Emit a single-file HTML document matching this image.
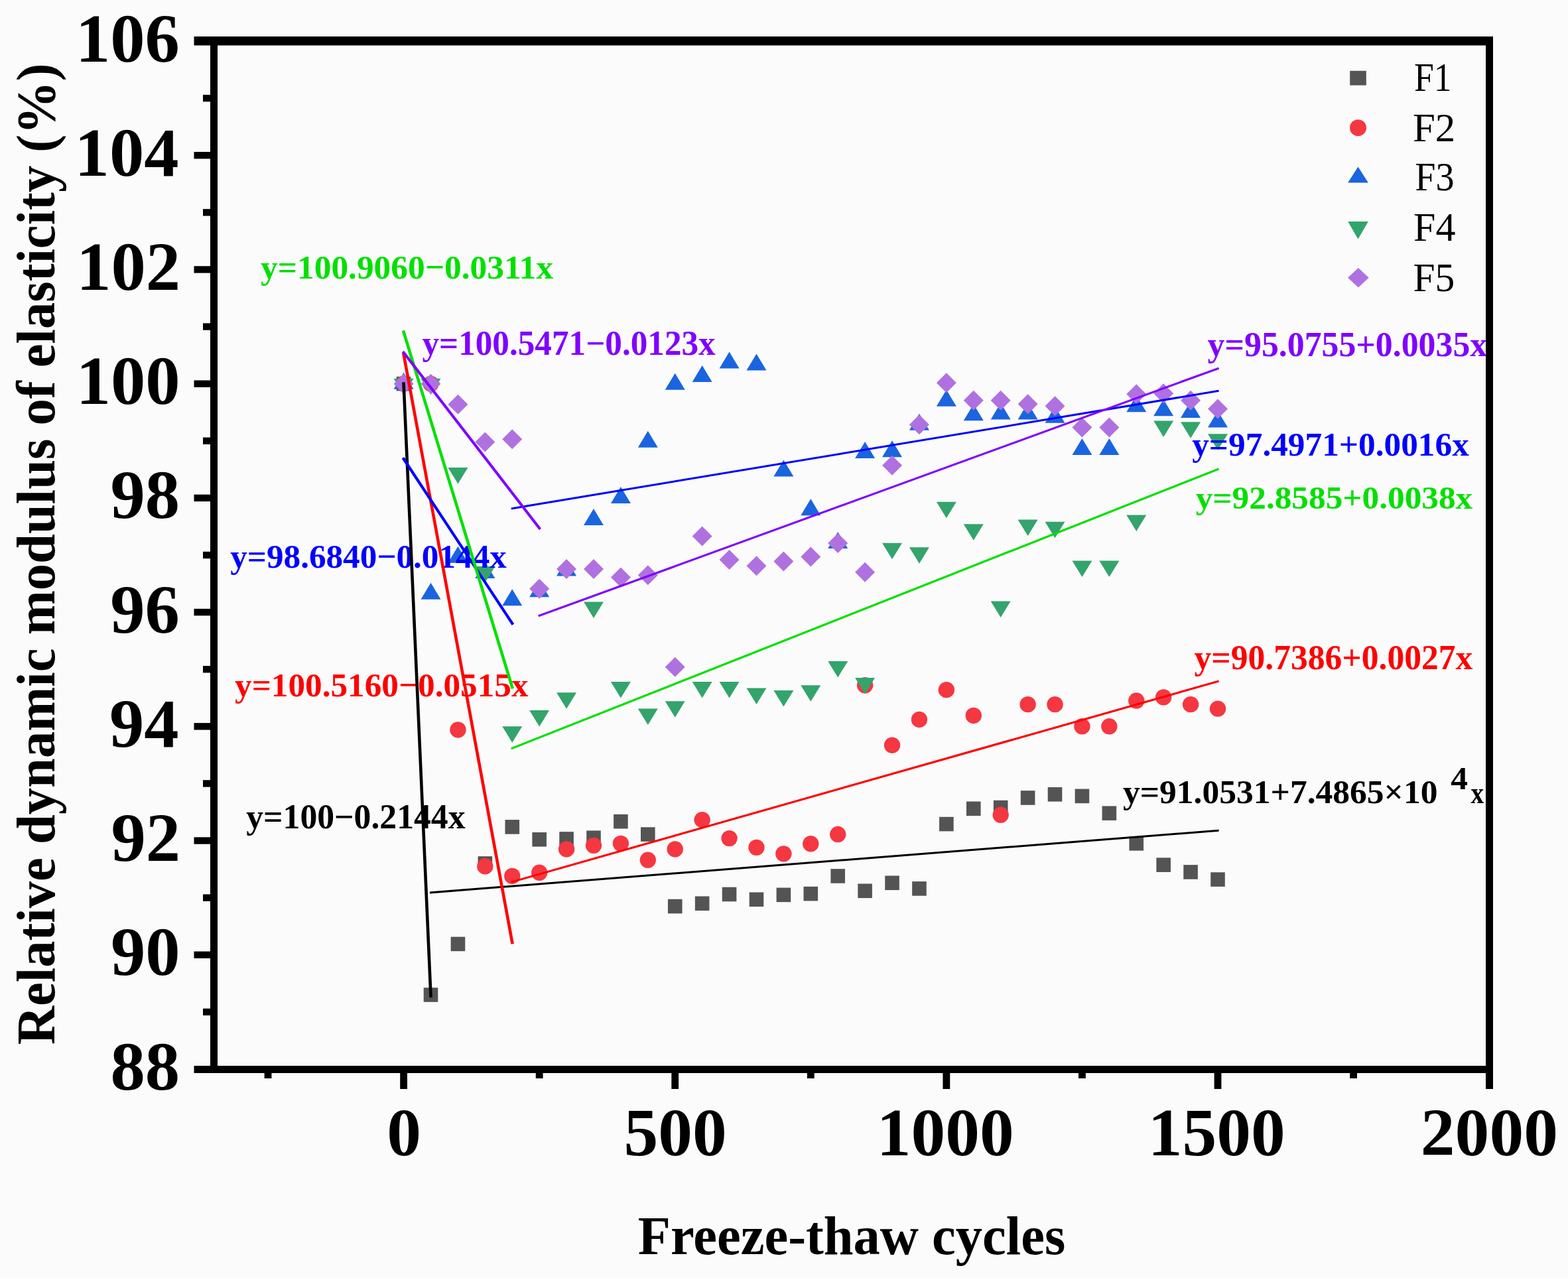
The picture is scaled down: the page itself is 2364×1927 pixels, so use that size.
<!DOCTYPE html><html><head><meta charset="utf-8"><title>Relative dynamic modulus of elasticity vs freeze-thaw cycles</title>
<style>html,body{margin:0;padding:0;background:#fcfbfc;}svg{display:block;}text{font-family:"Liberation Serif","Times New Roman",serif;}</style></head><body>
<svg width="2364" height="1927" viewBox="0 0 2364 1927">
<rect width="2364" height="1927" fill="#fcfbfc"/>
<g>
<rect x="597.8" y="567.86" width="21.6" height="21.6" fill="#545454"/>
<rect x="638.71" y="1489.24" width="21.6" height="21.6" fill="#545454"/>
<rect x="679.63" y="1412.6" width="21.6" height="21.6" fill="#545454"/>
<rect x="720.54" y="1291.18" width="21.6" height="21.6" fill="#545454"/>
<rect x="761.45" y="1236.07" width="21.6" height="21.6" fill="#545454"/>
<rect x="802.37" y="1255.02" width="21.6" height="21.6" fill="#545454"/>
<rect x="843.28" y="1254.16" width="21.6" height="21.6" fill="#545454"/>
<rect x="884.19" y="1252.43" width="21.6" height="21.6" fill="#545454"/>
<rect x="925.11" y="1227.89" width="21.6" height="21.6" fill="#545454"/>
<rect x="966.02" y="1247.27" width="21.6" height="21.6" fill="#545454"/>
<rect x="1006.94" y="1355.77" width="21.6" height="21.6" fill="#545454"/>
<rect x="1047.85" y="1351.46" width="21.6" height="21.6" fill="#545454"/>
<rect x="1088.76" y="1337.68" width="21.6" height="21.6" fill="#545454"/>
<rect x="1129.68" y="1345.43" width="21.6" height="21.6" fill="#545454"/>
<rect x="1170.59" y="1338.54" width="21.6" height="21.6" fill="#545454"/>
<rect x="1211.5" y="1336.82" width="21.6" height="21.6" fill="#545454"/>
<rect x="1252.42" y="1310.13" width="21.6" height="21.6" fill="#545454"/>
<rect x="1293.33" y="1332.52" width="21.6" height="21.6" fill="#545454"/>
<rect x="1334.24" y="1320.46" width="21.6" height="21.6" fill="#545454"/>
<rect x="1375.16" y="1329.07" width="21.6" height="21.6" fill="#545454"/>
<rect x="1416.07" y="1231.77" width="21.6" height="21.6" fill="#545454"/>
<rect x="1456.98" y="1208.52" width="21.6" height="21.6" fill="#545454"/>
<rect x="1497.9" y="1206.8" width="21.6" height="21.6" fill="#545454"/>
<rect x="1538.81" y="1192.16" width="21.6" height="21.6" fill="#545454"/>
<rect x="1579.72" y="1186.99" width="21.6" height="21.6" fill="#545454"/>
<rect x="1620.64" y="1189.57" width="21.6" height="21.6" fill="#545454"/>
<rect x="1661.55" y="1215.41" width="21.6" height="21.6" fill="#545454"/>
<rect x="1702.46" y="1261.05" width="21.6" height="21.6" fill="#545454"/>
<rect x="1743.38" y="1293.34" width="21.6" height="21.6" fill="#545454"/>
<rect x="1784.29" y="1304.1" width="21.6" height="21.6" fill="#545454"/>
<rect x="1825.21" y="1315.29" width="21.6" height="21.6" fill="#545454"/>
<circle cx="608.6" cy="578.66" r="12.2" fill="#f53741"/>
<circle cx="649.51" cy="578.66" r="12.2" fill="#f53741"/>
<circle cx="690.43" cy="1100.49" r="12.2" fill="#f53741"/>
<circle cx="731.34" cy="1306.29" r="12.2" fill="#f53741"/>
<circle cx="772.25" cy="1320.93" r="12.2" fill="#f53741"/>
<circle cx="813.17" cy="1315.76" r="12.2" fill="#f53741"/>
<circle cx="854.08" cy="1280.46" r="12.2" fill="#f53741"/>
<circle cx="894.99" cy="1274.86" r="12.2" fill="#f53741"/>
<circle cx="935.91" cy="1271.85" r="12.2" fill="#f53741"/>
<circle cx="976.82" cy="1296.82" r="12.2" fill="#f53741"/>
<circle cx="1017.74" cy="1280.46" r="12.2" fill="#f53741"/>
<circle cx="1058.65" cy="1236.11" r="12.2" fill="#f53741"/>
<circle cx="1099.56" cy="1264.1" r="12.2" fill="#f53741"/>
<circle cx="1140.48" cy="1277.87" r="12.2" fill="#f53741"/>
<circle cx="1181.39" cy="1287.35" r="12.2" fill="#f53741"/>
<circle cx="1222.3" cy="1272.28" r="12.2" fill="#f53741"/>
<circle cx="1263.22" cy="1258.07" r="12.2" fill="#f53741"/>
<circle cx="1304.13" cy="1033.32" r="12.2" fill="#f53741"/>
<circle cx="1345.04" cy="1123.74" r="12.2" fill="#f53741"/>
<circle cx="1385.96" cy="1084.99" r="12.2" fill="#f53741"/>
<circle cx="1426.87" cy="1040.21" r="12.2" fill="#f53741"/>
<circle cx="1467.78" cy="1078.96" r="12.2" fill="#f53741"/>
<circle cx="1508.7" cy="1228.79" r="12.2" fill="#f53741"/>
<circle cx="1549.61" cy="1062.17" r="12.2" fill="#f53741"/>
<circle cx="1590.52" cy="1062.17" r="12.2" fill="#f53741"/>
<circle cx="1631.44" cy="1095.32" r="12.2" fill="#f53741"/>
<circle cx="1672.35" cy="1095.32" r="12.2" fill="#f53741"/>
<circle cx="1713.26" cy="1056.57" r="12.2" fill="#f53741"/>
<circle cx="1754.18" cy="1051.4" r="12.2" fill="#f53741"/>
<circle cx="1795.09" cy="1062.17" r="12.2" fill="#f53741"/>
<circle cx="1836.01" cy="1068.63" r="12.2" fill="#f53741"/>
<path d="M608.6 561.85L623.6 586.85L593.6 586.85Z" fill="#1a64df"/>
<path d="M649.51 878.74L664.51 903.74L634.51 903.74Z" fill="#1a64df"/>
<path d="M690.43 823.63L705.43 848.63L675.43 848.63Z" fill="#1a64df"/>
<path d="M731.34 846.88L746.34 871.88L716.34 871.88Z" fill="#1a64df"/>
<path d="M772.25 888.21L787.25 913.21L757.25 913.21Z" fill="#1a64df"/>
<path d="M813.17 875.29L828.17 900.29L798.17 900.29Z" fill="#1a64df"/>
<path d="M854.08 843.43L869.08 868.43L839.08 868.43Z" fill="#1a64df"/>
<path d="M894.99 767.05L909.99 792.05L879.99 792.05Z" fill="#1a64df"/>
<path d="M935.91 734.07L950.91 759.07L920.91 759.07Z" fill="#1a64df"/>
<path d="M976.82 649.69L991.82 674.69L961.82 674.69Z" fill="#1a64df"/>
<path d="M1017.74 562.72L1032.74 587.72L1002.74 587.72Z" fill="#1a64df"/>
<path d="M1058.65 551.09L1073.65 576.09L1043.65 576.09Z" fill="#1a64df"/>
<path d="M1099.56 530.42L1114.56 555.42L1084.56 555.42Z" fill="#1a64df"/>
<path d="M1140.48 533.44L1155.48 558.44L1125.48 558.44Z" fill="#1a64df"/>
<path d="M1181.39 693.6L1196.39 718.6L1166.39 718.6Z" fill="#1a64df"/>
<path d="M1222.3 752.16L1237.3 777.16L1207.3 777.16Z" fill="#1a64df"/>
<path d="M1263.22 802.1L1278.22 827.1L1248.22 827.1Z" fill="#1a64df"/>
<path d="M1304.13 666.05L1319.13 691.05L1289.13 691.05Z" fill="#1a64df"/>
<path d="M1345.04 664.33L1360.04 689.33L1330.04 689.33Z" fill="#1a64df"/>
<path d="M1385.96 623.85L1400.96 648.85L1370.96 648.85Z" fill="#1a64df"/>
<path d="M1426.87 587.69L1441.87 612.69L1411.87 612.69Z" fill="#1a64df"/>
<path d="M1467.78 609.22L1482.78 634.22L1452.78 634.22Z" fill="#1a64df"/>
<path d="M1508.7 607.49L1523.7 632.49L1493.7 632.49Z" fill="#1a64df"/>
<path d="M1549.61 607.49L1564.61 632.49L1534.61 632.49Z" fill="#1a64df"/>
<path d="M1590.52 612.66L1605.52 637.66L1575.52 637.66Z" fill="#1a64df"/>
<path d="M1631.44 660.88L1646.44 685.88L1616.44 685.88Z" fill="#1a64df"/>
<path d="M1672.35 660.88L1687.35 685.88L1657.35 685.88Z" fill="#1a64df"/>
<path d="M1713.26 596.3L1728.26 621.3L1698.26 621.3Z" fill="#1a64df"/>
<path d="M1754.18 602.33L1769.18 627.33L1739.18 627.33Z" fill="#1a64df"/>
<path d="M1795.09 604.91L1810.09 629.91L1780.09 629.91Z" fill="#1a64df"/>
<path d="M1836.01 619.55L1851.01 644.55L1821.01 644.55Z" fill="#1a64df"/>
<path d="M593.6 570.72L623.6 570.72L608.6 595.22Z" fill="#33a46c"/>
<path d="M634.51 570.72L664.51 570.72L649.51 595.22Z" fill="#33a46c"/>
<path d="M675.43 705.05L705.43 705.05L690.43 729.55Z" fill="#33a46c"/>
<path d="M716.34 854.02L746.34 854.02L731.34 878.52Z" fill="#33a46c"/>
<path d="M757.25 1095.13L787.25 1095.13L772.25 1119.63Z" fill="#33a46c"/>
<path d="M798.17 1071.01L828.17 1071.01L813.17 1095.51Z" fill="#33a46c"/>
<path d="M839.08 1044.32L869.08 1044.32L854.08 1068.82Z" fill="#33a46c"/>
<path d="M879.99 907.41L909.99 907.41L894.99 931.91Z" fill="#33a46c"/>
<path d="M920.91 1027.96L950.91 1027.96L935.91 1052.46Z" fill="#33a46c"/>
<path d="M961.82 1068.43L991.82 1068.43L976.82 1092.93Z" fill="#33a46c"/>
<path d="M1002.74 1057.24L1032.74 1057.24L1017.74 1081.74Z" fill="#33a46c"/>
<path d="M1043.65 1027.96L1073.65 1027.96L1058.65 1052.46Z" fill="#33a46c"/>
<path d="M1084.56 1027.96L1114.56 1027.96L1099.56 1052.46Z" fill="#33a46c"/>
<path d="M1125.48 1037.43L1155.48 1037.43L1140.48 1061.93Z" fill="#33a46c"/>
<path d="M1166.39 1040.88L1196.39 1040.88L1181.39 1065.38Z" fill="#33a46c"/>
<path d="M1207.3 1033.13L1237.3 1033.13L1222.3 1057.63Z" fill="#33a46c"/>
<path d="M1248.22 996.96L1278.22 996.96L1263.22 1021.46Z" fill="#33a46c"/>
<path d="M1289.13 1021.93L1319.13 1021.93L1304.13 1046.43Z" fill="#33a46c"/>
<path d="M1330.04 818.71L1360.04 818.71L1345.04 843.21Z" fill="#33a46c"/>
<path d="M1370.96 825.17L1400.96 825.17L1385.96 849.67Z" fill="#33a46c"/>
<path d="M1411.87 756.71L1441.87 756.71L1426.87 781.21Z" fill="#33a46c"/>
<path d="M1452.78 790.3L1482.78 790.3L1467.78 814.8Z" fill="#33a46c"/>
<path d="M1493.7 906.54L1523.7 906.54L1508.7 931.04Z" fill="#33a46c"/>
<path d="M1534.61 783.41L1564.61 783.41L1549.61 807.91Z" fill="#33a46c"/>
<path d="M1575.52 786.85L1605.52 786.85L1590.52 811.35Z" fill="#33a46c"/>
<path d="M1616.44 845.41L1646.44 845.41L1631.44 869.91Z" fill="#33a46c"/>
<path d="M1657.35 845.41L1687.35 845.41L1672.35 869.91Z" fill="#33a46c"/>
<path d="M1698.26 776.52L1728.26 776.52L1713.26 801.02Z" fill="#33a46c"/>
<path d="M1739.18 634.44L1769.18 634.44L1754.18 658.94Z" fill="#33a46c"/>
<path d="M1780.09 636.16L1810.09 636.16L1795.09 660.66Z" fill="#33a46c"/>
<path d="M1821.01 654.24L1851.01 654.24L1836.01 678.74Z" fill="#33a46c"/>
<path d="M608.6 563.66L623.6 578.66L608.6 593.66L593.6 578.66Z" fill="#b071e0"/>
<path d="M649.51 563.66L664.51 578.66L649.51 593.66L634.51 578.66Z" fill="#b071e0"/>
<path d="M690.43 594.66L705.43 609.66L690.43 624.66L675.43 609.66Z" fill="#b071e0"/>
<path d="M731.34 651.49L746.34 666.49L731.34 681.49L716.34 666.49Z" fill="#b071e0"/>
<path d="M772.25 647.19L787.25 662.19L772.25 677.19L757.25 662.19Z" fill="#b071e0"/>
<path d="M813.17 872.79L828.17 887.79L813.17 902.79L798.17 887.79Z" fill="#b071e0"/>
<path d="M854.08 843.09L869.08 858.09L854.08 873.09L839.08 858.09Z" fill="#b071e0"/>
<path d="M894.99 843.09L909.99 858.09L894.99 873.09L879.99 858.09Z" fill="#b071e0"/>
<path d="M935.91 855.57L950.91 870.57L935.91 885.57L920.91 870.57Z" fill="#b071e0"/>
<path d="M976.82 852.13L991.82 867.13L976.82 882.13L961.82 867.13Z" fill="#b071e0"/>
<path d="M1017.74 990.77L1032.74 1005.77L1017.74 1020.77L1002.74 1005.77Z" fill="#b071e0"/>
<path d="M1058.65 793.57L1073.65 808.57L1058.65 823.57L1043.65 808.57Z" fill="#b071e0"/>
<path d="M1099.56 828.88L1114.56 843.88L1099.56 858.88L1084.56 843.88Z" fill="#b071e0"/>
<path d="M1140.48 838.35L1155.48 853.35L1140.48 868.35L1125.48 853.35Z" fill="#b071e0"/>
<path d="M1181.39 831.46L1196.39 846.46L1181.39 861.46L1166.39 846.46Z" fill="#b071e0"/>
<path d="M1222.3 824.57L1237.3 839.57L1222.3 854.57L1207.3 839.57Z" fill="#b071e0"/>
<path d="M1263.22 803.91L1278.22 818.91L1263.22 833.91L1248.22 818.91Z" fill="#b071e0"/>
<path d="M1304.13 847.82L1319.13 862.82L1304.13 877.82L1289.13 862.82Z" fill="#b071e0"/>
<path d="M1345.04 686.8L1360.04 701.8L1345.04 716.8L1330.04 701.8Z" fill="#b071e0"/>
<path d="M1385.96 625.23L1400.96 640.23L1385.96 655.23L1370.96 640.23Z" fill="#b071e0"/>
<path d="M1426.87 562.37L1441.87 577.37L1426.87 592.37L1411.87 577.37Z" fill="#b071e0"/>
<path d="M1467.78 588.63L1482.78 603.63L1467.78 618.63L1452.78 603.63Z" fill="#b071e0"/>
<path d="M1508.7 588.63L1523.7 603.63L1508.7 618.63L1493.7 603.63Z" fill="#b071e0"/>
<path d="M1549.61 594.23L1564.61 609.23L1549.61 624.23L1534.61 609.23Z" fill="#b071e0"/>
<path d="M1590.52 597.24L1605.52 612.24L1590.52 627.24L1575.52 612.24Z" fill="#b071e0"/>
<path d="M1631.44 629.53L1646.44 644.53L1631.44 659.53L1616.44 644.53Z" fill="#b071e0"/>
<path d="M1672.35 629.53L1687.35 644.53L1672.35 659.53L1657.35 644.53Z" fill="#b071e0"/>
<path d="M1713.26 579.16L1728.26 594.16L1713.26 609.16L1698.26 594.16Z" fill="#b071e0"/>
<path d="M1754.18 578.3L1769.18 593.3L1754.18 608.3L1739.18 593.3Z" fill="#b071e0"/>
<path d="M1795.09 588.63L1810.09 603.63L1795.09 618.63L1780.09 603.63Z" fill="#b071e0"/>
<path d="M1836.01 601.55L1851.01 616.55L1836.01 631.55L1821.01 616.55Z" fill="#b071e0"/>
</g>
<g>
<text transform="translate(392.99 420.00) scale(0.9997 1)" font-size="51.43" font-weight="bold" fill="#00e000">y=100.9060−0.0311x</text>
<text transform="translate(636.39 534.80) scale(0.9871 1)" font-size="51.88" font-weight="bold" fill="#8000ff">y=100.5471−0.0123x</text>
<text transform="translate(1820.58 536.90) scale(1.0000 1)" font-size="51.80" font-weight="bold" fill="#8000ff">y=95.0755+0.0035x</text>
<text transform="translate(1797.19 687.40) scale(0.9979 1)" font-size="51.43" font-weight="bold" fill="#0000ff">y=97.4971+0.0016x</text>
<text transform="translate(1802.69 766.90) scale(1.0501 1)" font-size="48.87" font-weight="bold" fill="#00e000">y=92.8585+0.0038x</text>
<text transform="translate(347.19 855.60) scale(1.0012 1)" font-size="51.13" font-weight="bold" fill="#0000ff">y=98.6840−0.0144x</text>
<text transform="translate(354.09 1050.00) scale(0.9958 1)" font-size="51.43" font-weight="bold" fill="#ff0000">y=100.5160−0.0515x</text>
<text transform="translate(1800.48 1009.00) scale(0.9888 1)" font-size="52.18" font-weight="bold" fill="#ff0000">y=90.7386+0.0027x</text>
<text transform="translate(371.28 1249.30) scale(0.9852 1)" font-size="52.48" font-weight="bold" fill="#000000">y=100−0.2144x</text>
<text transform="translate(1692.88 1210.60) scale(1.0082 1)" font-size="51.13" font-weight="bold" fill="#000000">y=91.0531+7.4865×10</text>
<text transform="translate(2187.36 1189.50) scale(1.0481 1)" font-size="49.13" font-weight="bold" fill="#000000">4</text>
<text transform="translate(2217.50 1211.00) scale(0.8584 1)" font-size="45.65" font-weight="bold" fill="#000000">x</text>
</g>
<g fill="none">
<line x1="608.6" y1="578.66" x2="649.51" y2="1501.76" stroke="#000000" stroke-width="4.60" stroke-linecap="square"/>
<line x1="649.51" y1="1345.85" x2="1836.01" y2="1252.38" stroke="#000000" stroke-width="3.01" stroke-linecap="square"/>
<line x1="608.6" y1="534.23" x2="772.25" y2="1421.16" stroke="#ff0000" stroke-width="4.56" stroke-linecap="square"/>
<line x1="772.25" y1="1329.66" x2="1836.01" y2="1027.41" stroke="#ff0000" stroke-width="3.15" stroke-linecap="square"/>
<line x1="608.6" y1="691.98" x2="772.25" y2="939.98" stroke="#0000ff" stroke-width="4.18" stroke-linecap="square"/>
<line x1="772.25" y1="766.63" x2="1836.01" y2="589.59" stroke="#0000ff" stroke-width="3.05" stroke-linecap="square"/>
<line x1="608.6" y1="500.64" x2="772.25" y2="1036.25" stroke="#00e000" stroke-width="4.49" stroke-linecap="square"/>
<line x1="772.25" y1="1128.17" x2="1836.01" y2="707.5" stroke="#00e000" stroke-width="3.26" stroke-linecap="square"/>
<line x1="608.6" y1="531.55" x2="813.17" y2="796.34" stroke="#8000ff" stroke-width="4.08" stroke-linecap="square"/>
<line x1="813.17" y1="928.27" x2="1836.01" y2="555.7" stroke="#8000ff" stroke-width="3.23" stroke-linecap="square"/>
</g>
<g fill="#000">
<rect x="292.5" y="55" width="1958.5" height="13.5"/>
<rect x="292.5" y="1607" width="1958.5" height="11"/>
<rect x="317" y="55" width="11" height="1563"/>
<rect x="2240" y="55" width="11" height="1587"/>
<rect x="306" y="1520.67" width="11.5" height="10.4"/>
<rect x="292.5" y="1434.56" width="25" height="10.4"/>
<rect x="306" y="1348.45" width="11.5" height="10.4"/>
<rect x="292.5" y="1262.34" width="25" height="10.4"/>
<rect x="306" y="1176.23" width="11.5" height="10.4"/>
<rect x="292.5" y="1090.12" width="25" height="10.4"/>
<rect x="306" y="1004.01" width="11.5" height="10.4"/>
<rect x="292.5" y="917.9" width="25" height="10.4"/>
<rect x="306" y="831.79" width="11.5" height="10.4"/>
<rect x="292.5" y="745.68" width="25" height="10.4"/>
<rect x="306" y="659.57" width="11.5" height="10.4"/>
<rect x="292.5" y="573.46" width="25" height="10.4"/>
<rect x="306" y="487.35" width="11.5" height="10.4"/>
<rect x="292.5" y="401.24" width="25" height="10.4"/>
<rect x="306" y="315.13" width="11.5" height="10.4"/>
<rect x="292.5" y="229.02" width="25" height="10.4"/>
<rect x="306" y="142.91" width="11.5" height="10.4"/>
<rect x="398.63" y="1617" width="10.8" height="9"/>
<rect x="807.77" y="1617" width="10.8" height="9"/>
<rect x="1216.9" y="1617" width="10.8" height="9"/>
<rect x="1626.04" y="1617" width="10.8" height="9"/>
<rect x="2035.17" y="1617" width="10.8" height="9"/>
<rect x="603.2" y="1617" width="10.8" height="25"/>
<rect x="1012.34" y="1617" width="10.8" height="25"/>
<rect x="1421.47" y="1617" width="10.8" height="25"/>
<rect x="1830.61" y="1617" width="10.8" height="25"/>
</g>
<g>
<text transform="translate(166.45 1642.58) scale(1.0150 1)" font-size="103.00" font-weight="bold" fill="#000">88</text>
<text transform="translate(166.98 1470.36) scale(1.0150 1)" font-size="103.00" font-weight="bold" fill="#000">90</text>
<text transform="translate(167.50 1298.14) scale(1.0150 1)" font-size="103.00" font-weight="bold" fill="#000">92</text>
<text transform="translate(164.88 1125.92) scale(1.0150 1)" font-size="103.00" font-weight="bold" fill="#000">94</text>
<text transform="translate(166.19 953.70) scale(1.0150 1)" font-size="103.00" font-weight="bold" fill="#000">96</text>
<text transform="translate(166.45 781.48) scale(1.0150 1)" font-size="103.00" font-weight="bold" fill="#000">98</text>
<text transform="translate(114.70 609.26) scale(1.0150 1)" font-size="103.00" font-weight="bold" fill="#000">100</text>
<text transform="translate(115.23 437.04) scale(1.0150 1)" font-size="103.00" font-weight="bold" fill="#000">102</text>
<text transform="translate(112.61 264.82) scale(1.0150 1)" font-size="103.00" font-weight="bold" fill="#000">104</text>
<text transform="translate(113.92 92.60) scale(1.0150 1)" font-size="103.00" font-weight="bold" fill="#000">106</text>
<text transform="translate(583.22 1742.40) scale(1.0200 1)" font-size="101.50" font-weight="bold" fill="#000">0</text>
<text transform="translate(940.46 1742.40) scale(1.0200 1)" font-size="101.50" font-weight="bold" fill="#000">500</text>
<text transform="translate(1321.64 1742.40) scale(1.0200 1)" font-size="101.50" font-weight="bold" fill="#000">1000</text>
<text transform="translate(1730.77 1742.40) scale(1.0200 1)" font-size="101.50" font-weight="bold" fill="#000">1500</text>
<text transform="translate(2141.85 1742.40) scale(1.0200 1)" font-size="101.50" font-weight="bold" fill="#000">2000</text>
</g>
<text transform="translate(961.69 1890.50) scale(0.9657 1)" font-size="83.40" font-weight="bold" fill="#000">Freeze-thaw cycles</text>
<text transform="translate(82.3 1575.21) rotate(-90) scale(0.9747 1)" font-size="82.70" font-weight="bold">Relative dynamic modulus of elasticity (%)</text>
<rect x="2035.2" y="106.8" width="24.6" height="21.8" fill="#545454"/>
<circle cx="2047.5" cy="192.7" r="12.5" fill="#f53741"/>
<path d="M2047.5 251.45L2062.85 275.55L2032.15 275.55Z" fill="#1a64df"/>
<path d="M2032.15 334L2062.85 334L2047.5 360.6Z" fill="#33a46c"/>
<path d="M2047.9 404.05L2063.8 418.8L2047.9 433.55L2032 418.8Z" fill="#b071e0"/>
<text transform="translate(2131.92 136.90) scale(0.8652 1)" font-size="62.00" font-weight="normal" fill="#000">F1</text>
<text transform="translate(2129.93 212.90) scale(0.9818 1)" font-size="62.00" font-weight="normal" fill="#000">F2</text>
<text transform="translate(2133.36 286.90) scale(0.9049 1)" font-size="62.00" font-weight="normal" fill="#000">F3</text>
<text transform="translate(2131.05 362.80) scale(0.9669 1)" font-size="62.00" font-weight="normal" fill="#000">F4</text>
<text transform="translate(2130.47 439.00) scale(0.9588 1)" font-size="62.00" font-weight="normal" fill="#000">F5</text>
</svg></body></html>
